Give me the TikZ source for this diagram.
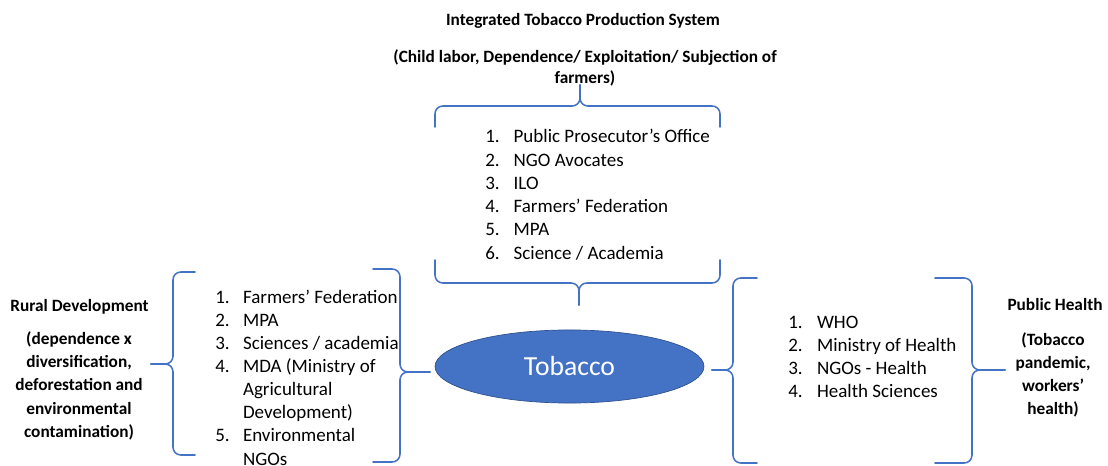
\documentclass[tikz,border=0pt]{standalone}
\usepackage{fontspec}
\setmainfont{Carlito}
\usetikzlibrary{shapes.geometric}
\definecolor{wordblue}{RGB}{68,114,196}
\definecolor{wordedge}{RGB}{47,82,143}
\tikzset{wbrace/.style={draw=wordblue,line width=0.9pt,rounded corners=4.5pt},
	item/.style={anchor=base west,inner sep=0pt,font=\fontsize{11pt}{13.4pt}\selectfont},
	head/.style={anchor=base,inner sep=0pt,align=center,font=\fontsize{10pt}{#1}\selectfont\bfseries},
	head/.default=13.5pt}
\begin{document}
\begin{tikzpicture}[x=0.5789pt,y=-0.5789pt,line join=round,line cap=round]
	\useasboundingbox (0,0) rectangle (1108,466);
	% themes (base = last line)
	\node[head] (prod) at (583,26) {Integrated Tobacco Production System};
	\node[head=12.2pt] (prodnote) at (585,84) {(Child labor, Dependence/ Exploitation/ Subjection of\\farmers)};
	\node[head] (rural) at (79.5,311) {Rural Development};
	\node[head] (ruralnote) at (79,437.6) {(dependence x\\diversification,\\deforestation and\\environmental\\contamination)};
	\node[head] (health) at (1055,310) {Public Health};
	\node[head=13.3pt] (healthnote) at (1053,414) {(Tobacco\\pandemic,\\workers'\\health)};
	% centre
	\node[ellipse,draw=wordedge,fill=wordblue,inner sep=0pt,minimum width=155.7pt,minimum height=42.3pt,
		text=white,font=\fontsize{16pt}{19pt}\selectfont] (tob) at (569.5,366.5) {Tobacco};
	% braces
	\foreach \xa/\xb/\xt/\ye/\ym/\yt in {435/720/580/127/106/85,435/720/579/260/283/305}{
		\draw[wbrace] (\xa,\ye)--(\xa,\ym)--(\xt,\ym)--(\xt,\yt);
		\draw[wbrace] (\xb,\ye)--(\xb,\ym)--(\xt,\ym)--(\xt,\yt);}
	\foreach \ya/\yb/\yt/\xe/\xm/\xt in {272/455/364/195/173/151,269/462/372/373/400/430,278/463/370/757/733/712,278/463/370/935/972/1005}{
		\draw[wbrace] (\xe,\ya)--(\xm,\ya)--(\xm,\yt)--(\xt,\yt);
		\draw[wbrace] (\xe,\yb)--(\xm,\yb)--(\xm,\yt)--(\xt,\yt);}
	% lists
	\foreach \k in {1,...,6}{\node[item] (topn\k) at (485,143+23.2*\k-23.2) {\k.};}
	\foreach \k/\t in {0/Public Prosecutor's Office,1/NGO Avocates,2/ILO,3/Farmers' Federation,4/MPA,5/{Science / Academia}}
		{\node[item] (top\k) at (513.3,143+23.2*\k) {\t};}
	\foreach \k/\n in {0/1,1/2,2/3,3/4,6/5}{\node[item] (leftn\n) at (215,303.3+23.1*\k) {\n.};}
	\foreach \k/\t in {0/Farmers' Federation,1/MPA,2/{Sciences / academia},3/MDA (Ministry of,4/Agricultural,5/Development),6/Environmental,7/NGOs}
		{\node[item] (left\k) at (242.7,303.3+23.1*\k) {\t};}
	\foreach \k in {1,...,4}{\node[item] (rightn\k) at (788,328.3+22.9*\k-22.9) {\k.};}
	\foreach \k/\t in {0/WHO,1/Ministry of Health,2/NGOs - Health,3/Health Sciences}
		{\node[item] (right\k) at (816.7,328.3+22.9*\k) {\t};}
\end{tikzpicture}
\end{document}
